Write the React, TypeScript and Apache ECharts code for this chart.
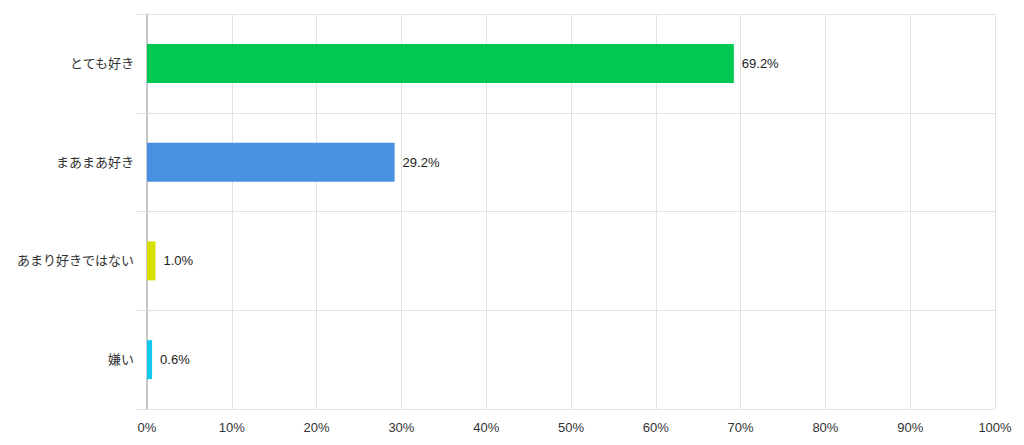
import React, { useEffect, useRef } from "react";
import * as echarts from "echarts";

const categories = ["とても好き", "まあまあ好き", "あまり好きではない", "嫌い"];
const values = [69.2, 29.2, 1.0, 0.6];
const barColors = ["#00c853", "#4a90e2", "#d8e000", "#14c8f0"];

const FONT = "'Liberation Sans', 'Noto Sans CJK JP', sans-serif";

const App: React.FC = () => {
  const chartRef = useRef<HTMLDivElement>(null);

  useEffect(() => {
    document.body.style.margin = "0";
    if (!chartRef.current) return;
    const chart = echarts.init(chartRef.current, undefined, { renderer: "svg" });

    const option: echarts.EChartsOption = {
      animation: false,
      backgroundColor: "#ffffff",
      grid: { left: 147, right: 29, top: 14, bottom: 36 },
      xAxis: {
        type: "value",
        min: 0,
        max: 100,
        interval: 10,
        axisLine: { show: false },
        axisTick: { show: false },
        splitLine: { show: true, lineStyle: { color: "#e2e2e2", width: 1 } },
        axisLabel: {
          formatter: "{value}%",
          color: "#333",
          fontSize: 13,
          fontFamily: FONT,
          margin: 12,
        },
      },
      yAxis: {
        type: "category",
        inverse: true,
        data: categories,
        axisLine: { show: true, lineStyle: { color: "#b8b8b8", width: 1.5 } },
        axisTick: { show: true, length: 11, lineStyle: { color: "#e2e2e2" } },
        splitLine: { show: true, lineStyle: { color: "#e2e2e2", width: 1 } },
        axisLabel: {
          color: "#333",
          fontSize: 13,
          fontFamily: FONT,
          margin: 13,
        },
      },
      series: [
        {
          type: "bar",
          data: values.map((v, i) => ({ value: v, itemStyle: { color: barColors[i] } })),
          barWidth: 39,
          label: {
            show: true,
            position: "right",
            distance: 8,
            color: "#222",
            fontSize: 13,
            fontFamily: FONT,
            formatter: (p: any) => `${Number(p.value).toFixed(1)}%`,
          },
        },
      ],
    };
    chart.setOption(option);

    return () => {
      chart.dispose();
    };
  }, []);

  return <div ref={chartRef} style={{ width: 1024, height: 445 }} />;
};

export default App;
